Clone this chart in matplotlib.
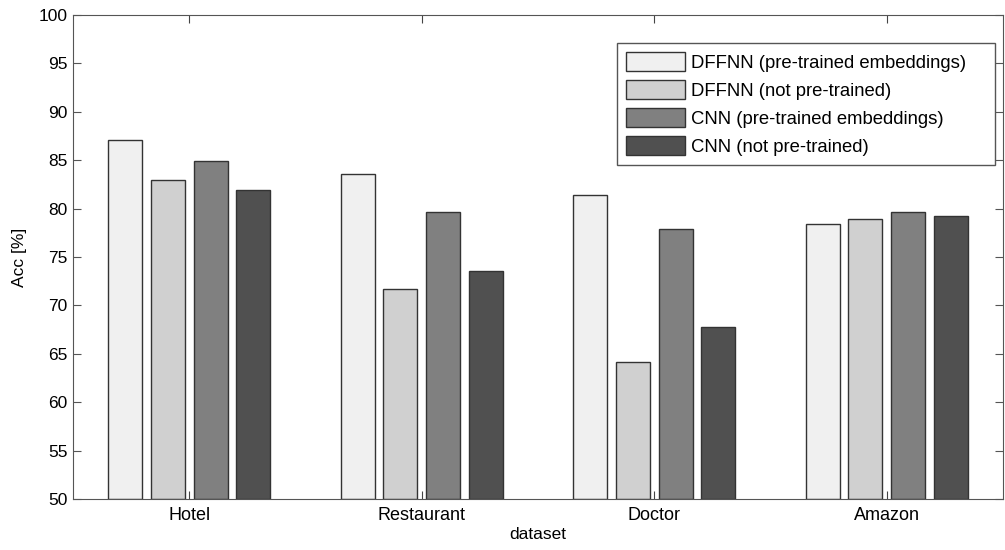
import numpy as np
import matplotlib
matplotlib.use("Agg")
import matplotlib.pyplot as plt
from matplotlib.patches import Rectangle

plt.rcParams['font.family'] = ['Liberation Sans', 'DejaVu Sans']

datasets = ['Hotel', 'Restaurant', 'Doctor', 'Amazon']
series_names = ['DFFNN (pre-trained embeddings)', 'DFFNN (not pre-trained)',
                'CNN (pre-trained embeddings)', 'CNN (not pre-trained)']
dffnn_pre = [87.1, 83.6, 81.4, 78.4]
dffnn_not = [83.0, 71.7, 64.2, 78.9]
cnn_pre = [84.9, 79.6, 77.9, 79.6]
cnn_not = [81.9, 73.6, 67.8, 79.2]
colors = ['#f0f0f0', '#d0d0d0', '#808080', '#505050']

fig = plt.figure(figsize=(10.05, 5.5), dpi=100)
ax = fig.add_axes([73 / 1005, 51 / 550, 930 / 1005, 484 / 550])

x = np.arange(1, len(datasets) + 1)
step = 0.184
width = 0.146
for i, (vals, name) in enumerate(zip([dffnn_pre, dffnn_not, cnn_pre, cnn_not], series_names)):
    ax.bar(x + (i - 1.5) * step, np.array(vals) - 50, width, bottom=50,
           color=colors[i], edgecolor='#333333', linewidth=1.0, label=name)

ax.set_xlim(0.5, 4.5)
ax.set_ylim(50, 100)
ax.set_yticks(np.arange(50, 101, 5))
ax.set_xticks(x)
ax.set_xticklabels(datasets)
ax.tick_params(axis='y', direction='in', length=6, labelsize=12.5, right=True,
               colors='#555555', labelcolor='black', pad=4)
ax.tick_params(axis='x', direction='in', length=6, labelsize=13, top=True,
               colors='#444444', labelcolor='black', pad=6)
ax.set_xlabel('dataset', fontsize=12.5, labelpad=2)
ax.set_ylabel('Acc [%]', fontsize=12.5, labelpad=8)
for s in ax.spines.values():
    s.set_color('#555555')

# matlab-style legend: box has extra room on the right
leg = ax.legend(loc='upper left', bbox_to_anchor=(617 / 1005, 507 / 550),
                bbox_transform=fig.transFigure, fontsize=13.3, frameon=False,
                handlelength=3.2, handleheight=1.2, handletextpad=0.32,
                labelspacing=0.45, borderpad=0.5, borderaxespad=0)
leg.set_zorder(6)
fig.canvas.draw()
bb = leg.get_window_extent()
(x0, y0), (x1, y1) = ax.transAxes.inverted().transform([[bb.x0, bb.y0], [bb.x1 + 19, bb.y1]])
frame = Rectangle((x0, y0), x1 - x0, y1 - y0, transform=ax.transAxes,
                  facecolor='white', edgecolor='#555555', linewidth=1.0, zorder=5)
ax.add_patch(frame)

fig.savefig('out.png', dpi=100)
